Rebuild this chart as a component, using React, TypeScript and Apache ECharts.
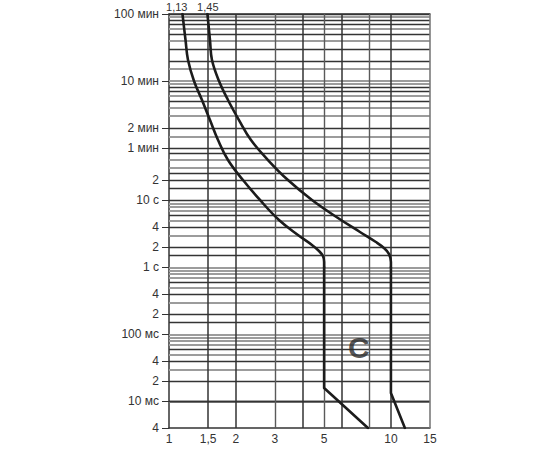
import React, { useEffect, useRef } from "react";
import * as echarts from "echarts";

// Axis ticks and labels
const xTickValues = [1, 1.5, 2, 3, 5, 10, 15];
const xTickLabels = ["1", "1,5", "2", "3", "5", "10", "15"];
const topMarkValues = [1.13, 1.45];
const topMarkLabels = ["1,13", "1,45"];
// time in seconds
const yTickValues = [6000, 600, 120, 60, 20, 10, 4, 2, 1, 0.4, 0.2, 0.1, 0.04, 0.02, 0.01, 0.004];
const yTickLabels = ["100 мин", "10 мин", "2 мин", "1 мин", "2", "10 с", "4", "2", "1 с", "4", "2", "100 мс", "4", "2", "10 мс", "4"];

// Grid lines (seconds / multiples of In)
const darkGridY = [6000, 4800, 4200, 3000, 1800, 1200, 480, 420, 300, 120, 60, 50, 25, 20, 15, 10, 6, 4, 2, 1.5, 0.6, 0.4, 0.2, 0.15, 0.06, 0.04, 0.02, 0.015, 0.006, 0.004];
const lightGridY = [5400, 3600, 2400, 900, 600, 540, 360, 240, 180, 90, 40, 30, 9, 8, 7, 5, 3, 1, 0.9, 0.8, 0.7, 0.5, 0.3, 0.1, 0.09, 0.08, 0.07, 0.05, 0.03, 0.01, 0.009, 0.008, 0.007, 0.005];
const darkGridX = [1.5, 2, 4, 6, 10];
const lightGridX = [3, 5, 8];
const borderGridX = [15];

// Curve starting at 1.13 In: thermal (curved) part, then instantaneous part
const lowThermalCurrent = [1.15, 1.187, 1.218, 1.296, 1.408, 1.53, 1.663, 1.844, 2.154, 2.57, 3.13, 3.812, 4.408, 4.74, 4.94, 5.0, 5.0];
const lowThermalTime = [6000, 2456, 1235, 600, 313, 157, 79.1, 39.8, 20.0, 10.08, 5.07, 3.03, 2.15, 1.75, 1.47, 1.2, 1.0];
const lowInstCurrent = [5.0, 5.0, 7.88];
const lowInstTime = [1.0, 0.0158, 0.004];
// Curve starting at 1.45 In
const highThermalCurrent = [1.49, 1.53, 1.562, 1.68, 1.844, 2.067, 2.341, 2.792, 3.436, 4.408, 5.772, 7.252, 8.558, 9.299, 9.795, 10, 10];
const highThermalTime = [6000, 2456, 1235, 600, 313, 157, 79.1, 39.8, 20.0, 10.08, 5.43, 3.36, 2.38, 1.94, 1.58, 1.2, 1.0];
const highInstCurrent = [10, 10, 11.56];
const highInstTime = [1.0, 0.0133, 0.004];

const curveLetter = "C";
const letterCurrent = 7.17;
const letterTime = 0.0643;

const FONT = "'Liberation Sans', Arial, sans-serif";

function nearestLabel(v: number, values: number[], labels: string[]) {
  let best = 0;
  let bd = Infinity;
  const lv = Math.log10(v);
  values.forEach((x, i) => {
    const d = Math.abs(Math.log10(x) - lv);
    if (d < bd) {
      bd = d;
      best = i;
    }
  });
  return labels[best];
}

function gridSeries(lines: number[], key: "xAxis" | "yAxis", color: string, width: number) {
  return {
    type: "line",
    data: [],
    silent: true,
    z: 1,
    markLine: {
      silent: true,
      symbol: ["none", "none"],
      label: { show: false },
      lineStyle: { type: "solid", color, width },
      data: lines.map((v) => ({ [key]: v })),
    },
  };
}

function curveSeries(xs: number[], ys: number[], smooth: number | boolean) {
  return {
    type: "line",
    data: xs.map((c, i) => [c, ys[i]]),
    showSymbol: false,
    symbol: "none",
    smooth,
    lineStyle: { color: "#1c1c1c", width: 2.6, cap: "round", join: "round" },
    z: 5,
    silent: true,
  };
}

export default function App() {
  const ref = useRef<HTMLDivElement>(null);
  useEffect(() => {
    document.body.style.margin = "0";
    const chart = echarts.init(ref.current!, null, { renderer: "svg" });
    const labelStyle = { color: "#333", fontSize: 12, fontFamily: FONT };
    const option: any = {
      animation: false,
      backgroundColor: "#fff",
      grid: { left: 169, top: 14, right: 120, bottom: 22 },
      xAxis: [
        {
          type: "log",
          min: 1,
          max: 15,
          position: "bottom",
          axisLine: { show: true, lineStyle: { color: "#333", width: 1.5 } },
          axisTick: { show: false },
          splitLine: { show: false },
          axisLabel: { show: false },
        },
        {
          type: "log",
          min: 1,
          max: 15,
          position: "top",
          axisLine: { show: true, lineStyle: { color: "#333", width: 1.5 } },
          axisTick: { show: false },
          splitLine: { show: false },
          axisLabel: {
            customValues: topMarkValues,
            margin: 2,
            formatter: (v: number) => {
              const t = nearestLabel(v, topMarkValues, topMarkLabels);
              return Math.abs(v - topMarkValues[0]) < Math.abs(v - topMarkValues[1]) ? `{a|${t}}` : `{b|${t}}`;
            },
            rich: {
              a: { color: "#333", fontSize: 11, fontFamily: FONT, padding: [0, 8, 0, 0] },
              b: { color: "#333", fontSize: 11, fontFamily: FONT, padding: [0, 0, 0, 6] },
            },
          },
        },
      ],
      yAxis: {
        type: "log",
        min: 0.004,
        max: 6000,
        axisLine: { show: true, lineStyle: { color: "#333", width: 1.5 } },
        axisTick: { show: true, customValues: yTickValues, length: 7, lineStyle: { color: "#333", width: 1 } },
        splitLine: { show: false },
        axisLabel: {
          ...labelStyle,
          customValues: yTickValues,
          margin: 10,
          formatter: (v: number) => nearestLabel(v, yTickValues, yTickLabels),
        },
      },
      series: [
        gridSeries(lightGridY, "yAxis", "#9c9c9c", 1.8),
        gridSeries(darkGridY, "yAxis", "#343434", 1.3),
        gridSeries(lightGridX, "xAxis", "#5a5a5a", 1.4),
        gridSeries(darkGridX, "xAxis", "#333", 1.5),
        gridSeries(borderGridX, "xAxis", "#7a7a7a", 1.6),
        curveSeries(lowThermalCurrent, lowThermalTime, 0.4),
        curveSeries(lowInstCurrent, lowInstTime, false),
        curveSeries(highThermalCurrent, highThermalTime, 0.4),
        curveSeries(highInstCurrent, highInstTime, false),
        {
          type: "scatter",
          data: [[letterCurrent, letterTime]],
          symbolSize: 1,
          itemStyle: { color: "rgba(0,0,0,0)" },
          silent: true,
          z: 6,
          label: {
            show: true,
            position: "inside",
            formatter: curveLetter,
            color: "#2a2a2a",
            fontSize: 30,
            fontWeight: "bold",
            fontFamily: "'Liberation Sans Narrow', 'Liberation Sans', sans-serif",
          },
        },
      ],
    };
    chart.setOption(option);
    const baseY = chart.convertToPixel({ yAxisIndex: 0 }, 0.004) as number;
    chart.setOption({
      graphic: xTickValues.map((v, i) => ({
        type: "text",
        x: chart.convertToPixel({ xAxisIndex: 0 }, v) as number,
        y: baseY + 5,
        style: { text: xTickLabels[i], fill: "#333", fontSize: 12, fontFamily: FONT, align: "center", verticalAlign: "top" },
      })),
    });
    return () => chart.dispose();
  }, []);
  return <div ref={ref} style={{ width: 550, height: 450 }} />;
}
